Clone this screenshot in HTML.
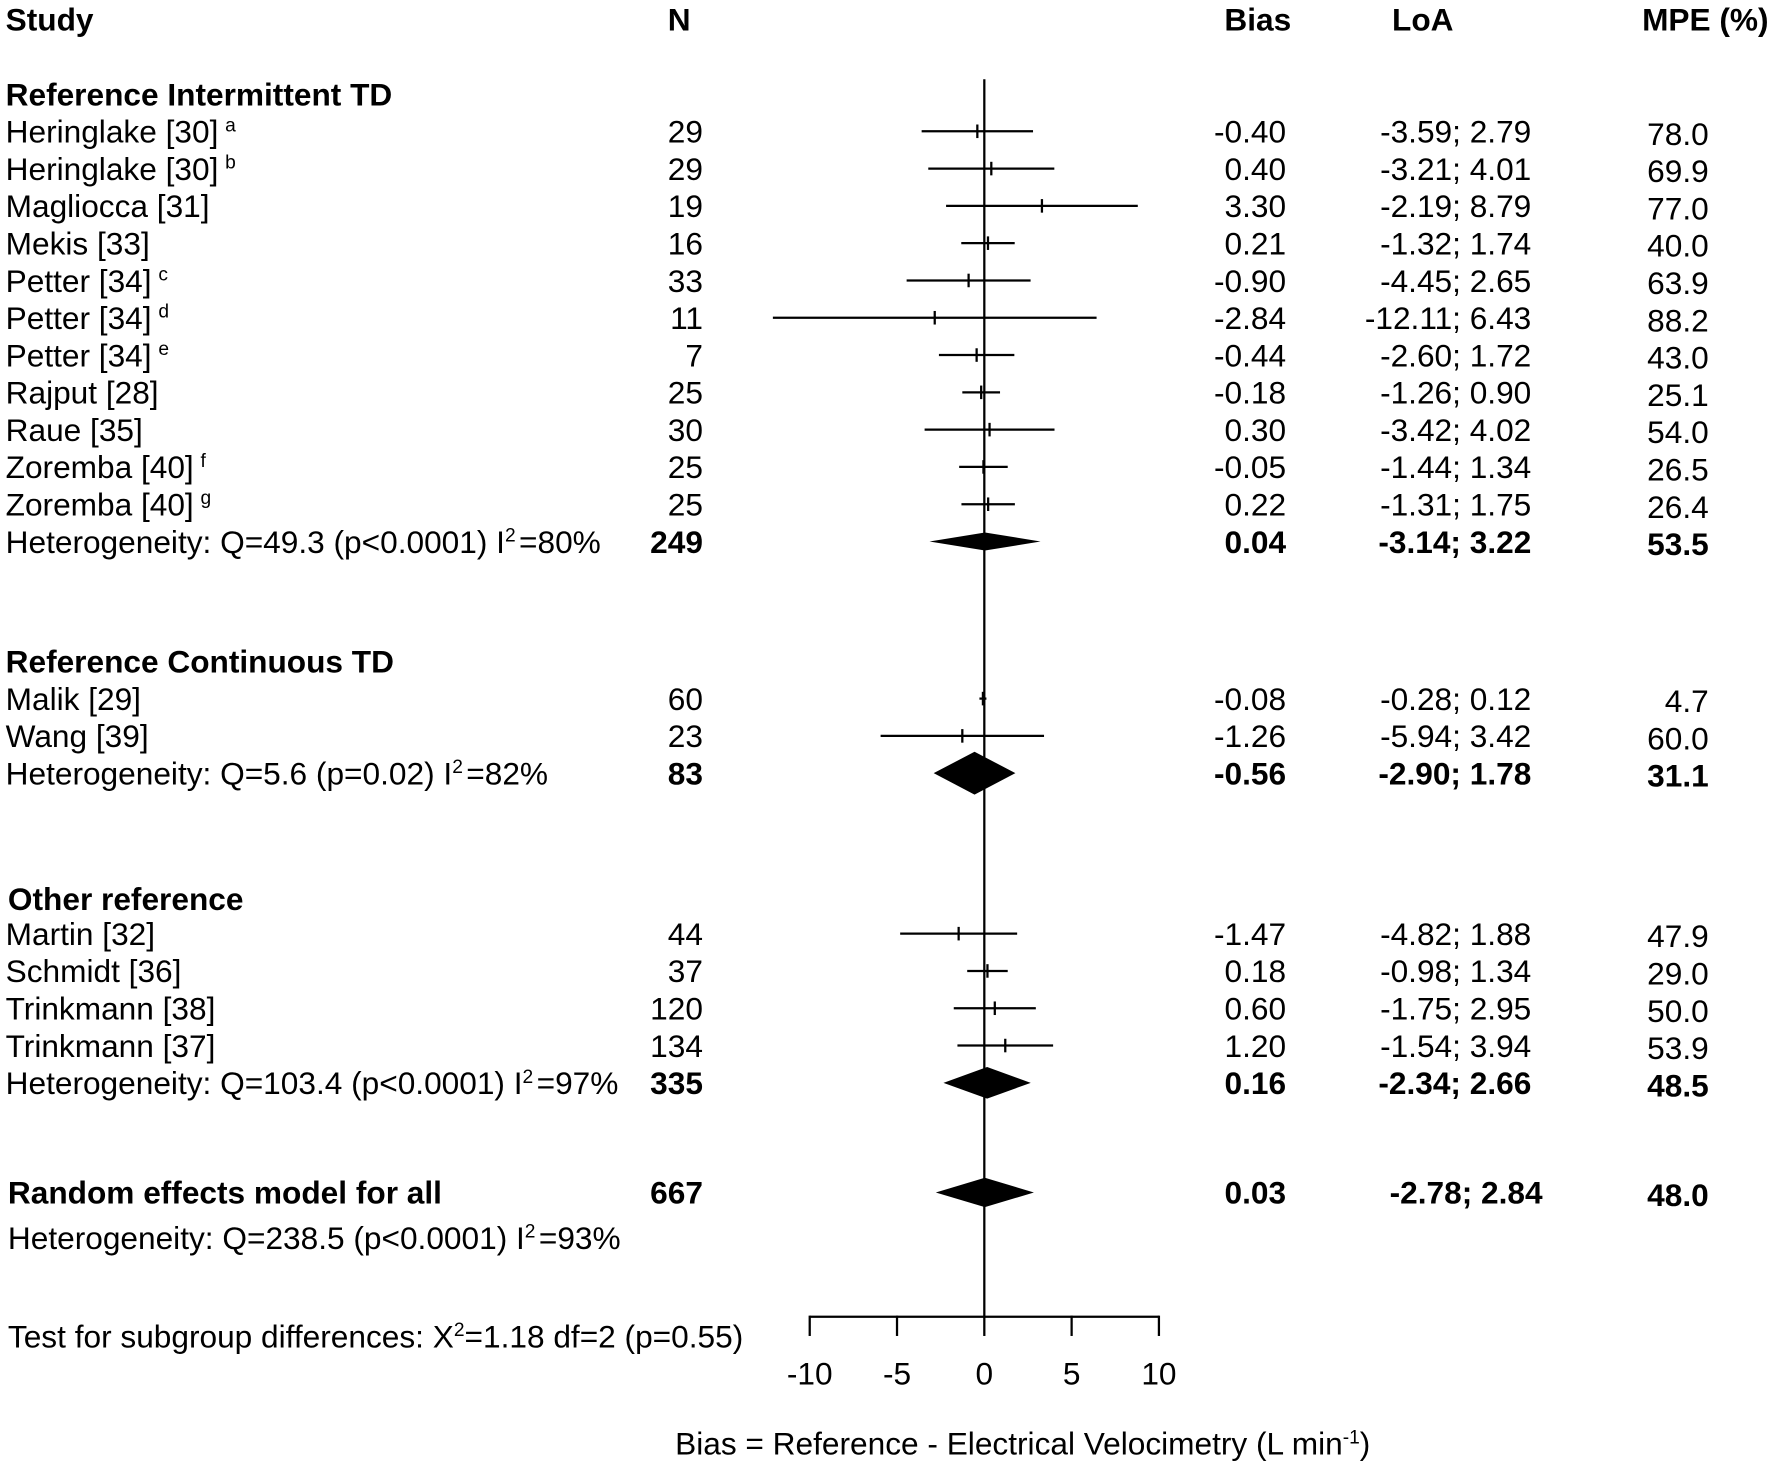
<!DOCTYPE html>
<html><head><meta charset="utf-8">
<style>
html,body{margin:0;padding:0;background:#fff;}
svg{display:block;}
text{font-family:"Liberation Sans",Arial,sans-serif;fill:#000;}
</style></head>
<body>
<svg id="chart" width="1772" height="1465" viewBox="0 0 1568 1296" xmlns="http://www.w3.org/2000/svg">
<g id="txt" font-size="28"></g>
<g id="marks"></g>
</svg>
<script>
// ---- data ----
const studyNames = ["Heringlake [30]","Heringlake [30]","Magliocca [31]","Mekis [33]","Petter [34]","Petter [34]","Petter [34]","Rajput [28]","Raue [35]","Zoremba [40]","Zoremba [40]","Malik [29]","Wang [39]","Martin [32]","Schmidt [36]","Trinkmann [38]","Trinkmann [37]"];
const studySup = ["a","b","","","c","d","e","","","f","g","","","","","",""];
const studyN = [29,29,19,16,33,11,7,25,30,25,25,60,23,44,37,120,134];
const studyBias = [-0.40,0.40,3.30,0.21,-0.90,-2.84,-0.44,-0.18,0.30,-0.05,0.22,-0.08,-1.26,-1.47,0.18,0.60,1.20];
const studyLow = [-3.59,-3.21,-2.19,-1.32,-4.45,-12.11,-2.60,-1.26,-3.42,-1.44,-1.31,-0.28,-5.94,-4.82,-0.98,-1.75,-1.54];
const studyHigh = [2.79,4.01,8.79,1.74,2.65,6.43,1.72,0.90,4.02,1.34,1.75,0.12,3.42,1.88,1.34,2.95,3.94];
const studyMPE = ["78.0","69.9","77.0","40.0","63.9","88.2","43.0","25.1","54.0","26.5","26.4","4.7","60.0","47.9","29.0","50.0","53.9"];
const studyRow = [116,149,182,215,248,281,314,347,380,413,446,618,651,826,859,892,925];
const poolLabels = ["Heterogeneity: Q=49.3 (p<0.0001) I","Heterogeneity: Q=5.6 (p=0.02) I","Heterogeneity: Q=103.4 (p<0.0001) I","Random effects model for all"];
const poolI2 = ["=80%","=82%","=97%",""];
const poolN = [249,83,335,667];
const poolBias = [0.04,-0.56,0.16,0.03];
const poolLow = [-3.14,-2.90,-2.34,-2.78];
const poolHigh = [3.22,1.78,2.66,2.84];
const poolMPE = ["53.5","31.1","48.5","48.0"];
const poolRow = [479,684,958,1055];
const poolHalfH = [8,19,14,13];
const xTicks = [-10,-5,0,5,10];

// ---- scales ----
const X0 = 871, PX = 15.45;
function xs(v){return X0 + v*PX;}
const NS="http://www.w3.org/2000/svg";
const T=document.getElementById('txt'), M=document.getElementById('marks');
function txt(x,y,s,opt){
  const t=document.createElementNS(NS,'text');
  t.setAttribute('x',x);t.setAttribute('y',y);
  if(opt&&opt.a)t.setAttribute('text-anchor',opt.a);
  if(opt&&opt.b)t.setAttribute('font-weight','bold');
  t.textContent=s;
  
  
  T.appendChild(t);return t;
}
function line(x1,y1,x2,y2,w,name){
  const l=document.createElementNS(NS,'line');
  l.setAttribute('x1',x1);l.setAttribute('y1',y1);l.setAttribute('x2',x2);l.setAttribute('y2',y2);
  l.setAttribute('stroke','#000');l.setAttribute('stroke-width',w);
  
  
  M.appendChild(l);return l;
}
function fmt(v){return v.toFixed(2);}
const base=10;

txt(5,27,"Study",{b:1,n:'study-header'});
txt(601,27,"N",{b:1,a:'middle',n:'n-header'});
txt(1113,27,"Bias",{b:1,a:'middle',n:'bias-header'});
txt(1259,27,"LoA",{b:1,a:'middle',n:'loa-header'});
txt(1509,27,"MPE (%)",{b:1,a:'middle',n:'mpe-header'});
txt(5,93,"Reference Intermittent TD",{b:1,n:'group-header'});
txt(5,595,"Reference Continuous TD",{b:1,n:'group-header'});
txt(7,805,"Other reference",{b:1,n:'group-header'});

line(X0,70,X0,1165,2,'zero-line');

for(let i=0;i<studyNames.length;i++){
  const y=studyRow[i];
  const t=txt(5,y+base,studyNames[i],{n:'study-name'});
  if(studySup[i]){const s=document.createElementNS(NS,'tspan');s.setAttribute('font-size','17');s.setAttribute('dx','6');s.setAttribute('dy','-10');s.textContent=studySup[i];t.appendChild(s);}
  txt(622,y+base,String(studyN[i]),{a:'end',n:'study-n'});
  txt(1138,y+base,fmt(studyBias[i]),{a:'end',n:'study-bias'});
  txt(1355,y+base,fmt(studyLow[i])+"; "+fmt(studyHigh[i]),{a:'end',n:'study-loa'});
  txt(1512,y+base+2,studyMPE[i],{a:'end',n:'study-mpe'});
  line(xs(studyLow[i]),y,xs(studyHigh[i]),y,2,'loa-line');
  line(xs(studyBias[i]),y-6,xs(studyBias[i]),y+6,2,'bias-tick');
}
for(let i=0;i<poolLabels.length;i++){
  const y=poolRow[i];
  const last=i===3;
  const t=txt(last?7:5,y+base,poolLabels[i],{b:last,n:last?'overall-label':'heterogeneity-label'});
  if(poolI2[i]){const s=document.createElementNS(NS,'tspan');s.setAttribute('font-size','17');s.setAttribute('dy','-10');s.textContent='2';t.appendChild(s);
    const s2=document.createElementNS(NS,'tspan');s2.setAttribute('dy','10');s2.setAttribute('dx','3');s2.textContent=poolI2[i];t.appendChild(s2);}
  txt(622,y+base,String(poolN[i]),{a:'end',b:1,n:'pooled-n'});
  txt(1138,y+base,fmt(poolBias[i]),{a:'end',b:1,n:'pooled-bias'});
  txt(last?1365:1355,y+base,fmt(poolLow[i])+"; "+fmt(poolHigh[i]),{a:'end',b:1,n:'pooled-loa'});
  txt(1512,y+base+2,poolMPE[i],{a:'end',b:1,n:'pooled-mpe'});
  const p=document.createElementNS(NS,'polygon');
  const h=poolHalfH[i];
  p.setAttribute('points',`${xs(poolLow[i])},${y} ${xs(poolBias[i])},${y-h} ${xs(poolHigh[i])},${y} ${xs(poolBias[i])},${y+h}`);
  p.setAttribute('fill','#000');
  
  
  M.appendChild(p);
}
(function(){const t=txt(7,1105,"Heterogeneity: Q=238.5 (p<0.0001) I",{n:'overall-heterogeneity'});
 const s=document.createElementNS(NS,'tspan');s.setAttribute('font-size','17');s.setAttribute('dy','-10');s.textContent='2';t.appendChild(s);
 const s2=document.createElementNS(NS,'tspan');s2.setAttribute('dy','10');s2.setAttribute('dx','3');s2.textContent='=93%';t.appendChild(s2);
 const u=txt(7,1192,"Test for subgroup differences: X",{n:'subgroup-test'});
 const a=document.createElementNS(NS,'tspan');a.setAttribute('font-size','17');a.setAttribute('dy','-10');a.textContent='2';u.appendChild(a);
 const b=document.createElementNS(NS,'tspan');b.setAttribute('dy','10');b.textContent='=1.18 df=2 (p=0.55)';u.appendChild(b);
})();
line(xs(xTicks[0]),1165,xs(xTicks[xTicks.length-1]),1165,2,'x-axis');
xTicks.forEach(v=>{line(xs(v),1164,xs(v),1182,2,'x-tick');txt(xs(v),1225,String(v),{a:'middle',n:'x-tick-label'});});
(function(){const t=txt(905,1287,"Bias = Reference - Electrical Velocimetry (L min",{a:'middle',n:'x-axis-title'});
 const s=document.createElementNS(NS,'tspan');s.setAttribute('font-size','17');s.setAttribute('dy','-10');s.textContent='-1';t.appendChild(s);
 const s2=document.createElementNS(NS,'tspan');s2.setAttribute('dy','10');s2.textContent=')';t.appendChild(s2);})();
</script>
</body></html>
